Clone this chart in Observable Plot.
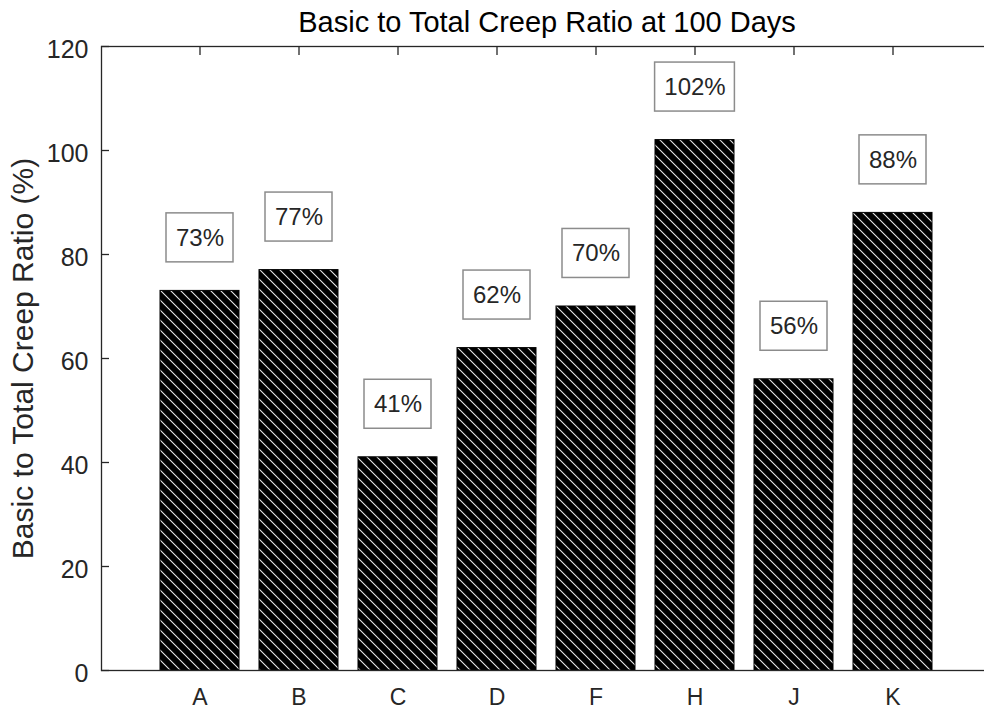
<!DOCTYPE html>
<html>
<head>
<meta charset="utf-8">
<script src="https://cdn.jsdelivr.net/npm/d3@7"></script>
<script src="https://cdn.jsdelivr.net/npm/@observablehq/plot@0.6"></script>
<style>
html, body { margin: 0; padding: 0; background: #fff; overflow: hidden; width: 984px; height: 710px; }
#chart { width: 984px; height: 710px; overflow: hidden; }
#chart svg { display: block; max-width: none !important; }
</style>
</head>
<body>
<svg width="0" height="0" style="position:absolute">
  <defs>
    <pattern id="hatch" patternUnits="userSpaceOnUse" width="10" height="10">
      <rect x="0" y="0" width="10" height="10" fill="#000"></rect>
      <path d="M-1,-1 L11,11 M-1,9 L1,11 M9,-1 L11,1" stroke="#e6e6e6" stroke-width="1.1"></path>
    </pattern>
  </defs>
</svg>
<div id="chart"></div>
<script>
const categories = ["A", "B", "C", "D", "F", "H", "J", "K"];
const values = [73, 77, 41, 62, 70, 102, 56, 88];
const valueLabels = ["73%", "77%", "41%", "62%", "70%", "102%", "56%", "88%"];
const yTicks = [0, 20, 40, 60, 80, 100, 120];
const yDomain = [0, 120];
const titleText = "Basic to Total Creep Ratio at 100 Days";
const yLabelText = "Basic to Total Creep Ratio (%)";
const labelOffset = 10.2;

const data = categories.map((c, i) => ({cat: c, value: values[i], label: valueLabels[i]}));
const fontFamily = "'Liberation Sans', Arial, Helvetica, sans-serif";

const chart = Plot.plot({
  width: 992,
  height: 710,
  marginLeft: 101,
  marginRight: 0,
  marginTop: 46,
  marginBottom: 40,
  style: {fontFamily, color: "#262626", background: "#fff", overflow: "visible"},
  x: {domain: categories, paddingInner: 0.2, paddingOuter: 0.6, label: null},
  y: {domain: yDomain, label: null},
  marks: [
    Plot.barY(data, {x: "cat", y: "value", fill: "url(#hatch)", stroke: "#000", strokeWidth: 1}),
    Plot.barY(data.filter(d => d.label.length === 3), {
      x: "cat", y1: d => d.value + labelOffset, y2: d => d.value + labelOffset,
      fill: "#fff", stroke: "#8c8c8c", strokeWidth: 1.5,
      insetLeft: 6, insetRight: 6, insetTop: -24.5, insetBottom: -24.5
    }),
    Plot.barY(data.filter(d => d.label.length === 4), {
      x: "cat", y1: d => d.value + labelOffset, y2: d => d.value + labelOffset,
      fill: "#fff", stroke: "#8c8c8c", strokeWidth: 1.5,
      insetLeft: -0.4, insetRight: -0.4, insetTop: -24.5, insetBottom: -24.5
    }),
    Plot.text(data, {x: "cat", y: d => d.value + labelOffset, text: "label", fontSize: 24, fill: "#262626"}),
    Plot.frame({stroke: "#262626", strokeWidth: 1.3}),
    Plot.axisY(yTicks, {tickSize: 0, tickPadding: 13, fontSize: 25, dy: 3, label: null, fill: "#262626"}),
    Plot.axisY(yTicks, {tickSize: -8, tickFormat: () => "", label: null, stroke: "#262626", strokeWidth: 1.3}),
    Plot.axisX({anchor: "bottom", tickSize: 0, tickPadding: 18, fontSize: 23, label: null, fill: "#262626"}),
    Plot.axisX({anchor: "top", tickSize: -8, tickFormat: () => "", label: null, stroke: "#262626", strokeWidth: 1.3}),
    Plot.text([titleText], {text: d => d, frameAnchor: "top", textAnchor: "middle", lineAnchor: "middle", dy: -24, fontSize: 29, fill: "#000"}),
    Plot.text([yLabelText], {text: d => d, frameAnchor: "left", textAnchor: "middle", lineAnchor: "middle", dx: -78, rotate: -90, fontSize: 30, fill: "#262626"})
  ]
});
document.getElementById("chart").appendChild(chart);
</script>
</body>
</html>
